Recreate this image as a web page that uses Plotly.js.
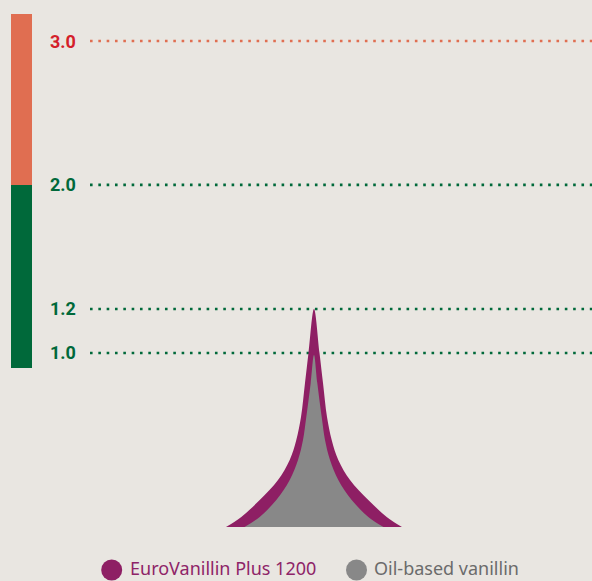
<!DOCTYPE html>
<html>
<head>
<meta charset="utf-8">
<script src="https://cdn.plot.ly/plotly-3.0.1.min.js"></script>
<style>
  html, body { margin: 0; padding: 0; background: #e9e6e1; }
  #chart { width: 592px; height: 581px; }
</style>
</head>
<body>
<div id="chart"></div>
<script>
// ---- data ----
// threshold levels and their position on the (warped) display scale
const levelLabels = ['3.0', '2.0', '1.2', '1.0'];
const levelPos = [2.418, 1.764, 1.2, 1.0];

// colour zones of the left scale bar (display-scale bounds)
const zoneLow = [0.932, 1.764];
const zoneHigh = [1.764, 2.541];

// spike profiles: display-scale height (apex first) and half-width
const euroY = [1.2, 1.0, 0.864, 0.709, 0.605, 0.514, 0.423, 0.332, 0.255, 0.209];
const euroHalf = [0, 5.5, 9, 13, 17.7, 24.3, 36, 54.3, 72.7, 88];
const oilY = [0.991, 0.864, 0.709, 0.605, 0.514, 0.423, 0.332, 0.255, 0.209];
const oilHalf = [0, 3.3, 7.7, 11, 16, 24.3, 37.7, 54.3, 69.5];

const seriesNames = ['EuroVanillin Plus 1200', 'Oil-based vanillin'];

// ---- build ----
// path: right base corner -> up the right edge -> apex -> down the left edge -> left base corner
function outline(ys, hs) {
  const x = [], y = [];
  for (let i = ys.length - 1; i >= 0; i--) { x.push(hs[i]); y.push(ys[i]); }
  for (let i = 1; i < ys.length; i++) { x.push(-hs[i]); y.push(ys[i]); }
  return {x, y};
}
const euro = outline(euroY, euroHalf);
const oil = outline(oilY, oilHalf);

const purple = '#8e1f64';
const grey = '#888888';
const green = '#00693a';
const orange = '#e06e51';
const red = '#d41f2b';

const traces = [
  {x: euro.x, y: euro.y, type: 'scatter', mode: 'lines', fill: 'toself',
   fillcolor: purple, line: {width: 0, color: purple, shape: 'spline', smoothing: 1},
   name: seriesNames[0], showlegend: false, hoverinfo: 'skip'},
  {x: oil.x, y: oil.y, type: 'scatter', mode: 'lines', fill: 'toself',
   fillcolor: grey, line: {width: 0, color: grey, shape: 'spline', smoothing: 1},
   name: seriesNames[1], showlegend: false, hoverinfo: 'skip'}
];

const W = 592, H = 581;
const shapes = [];
const annotations = [];

// scale bar
shapes.push({type: 'rect', xref: 'paper', yref: 'y', x0: 11 / W, x1: 32 / W,
  y0: zoneLow[0], y1: zoneLow[1], fillcolor: green, line: {width: 0}, layer: 'below'});
shapes.push({type: 'rect', xref: 'paper', yref: 'y', x0: 11 / W, x1: 32 / W,
  y0: zoneHigh[0], y1: zoneHigh[1], fillcolor: orange, line: {width: 0}, layer: 'below'});

// dotted level lines + labels
levelLabels.forEach((lab, i) => {
  const isTop = i === 0;
  shapes.push({type: 'line', xref: 'paper', yref: 'y', x0: 90 / W, x1: 1,
    y0: levelPos[i], y1: levelPos[i], layer: 'below',
    line: {color: isTop ? orange : green, width: 2.6, dash: '2.6px,5.73px'}});
  annotations.push({xref: 'paper', yref: 'y', x: 77.5 / W, y: levelPos[i],
    xanchor: 'right', yanchor: 'middle', showarrow: false, text: lab,
    font: {family: 'Roboto, sans-serif', size: 18, weight: 'bold', color: isTop ? red : green}});
});

// legend (circles + labels)
const legendItems = [
  {cx: 111.7, tx: 128, color: purple, textColor: '#8e2468'},
  {cx: 356.5, tx: 372, color: grey, textColor: '#6b6b6b'}
];
legendItems.forEach((it, i) => {
  shapes.push({type: 'circle', xref: 'paper', yref: 'paper',
    x0: (it.cx - 10.5) / W, x1: (it.cx + 10.5) / W,
    y0: 1 - 580.5 / H, y1: 1 - 559.5 / H, fillcolor: it.color, line: {width: 0}});
  annotations.push({xref: 'paper', yref: 'paper', x: it.tx / W, y: 1 - 568 / H,
    xanchor: 'left', yanchor: 'middle', showarrow: false, text: seriesNames[i],
    font: {family: 'Noto Sans, sans-serif', size: 18, color: it.textColor}});
});

const layout = {
  width: W, height: H,
  margin: {l: 0, r: 0, t: 0, b: 0},
  paper_bgcolor: '#e9e6e1', plot_bgcolor: '#e9e6e1',
  showlegend: false,
  xaxis: {range: [-314, 278], visible: false, fixedrange: true},
  yaxis: {range: [-0.0364, 2.6045], visible: false, fixedrange: true},
  shapes: shapes,
  annotations: annotations
};

Plotly.newPlot('chart', traces, layout, {displayModeBar: false, staticPlot: true});
</script>
</body>
</html>
